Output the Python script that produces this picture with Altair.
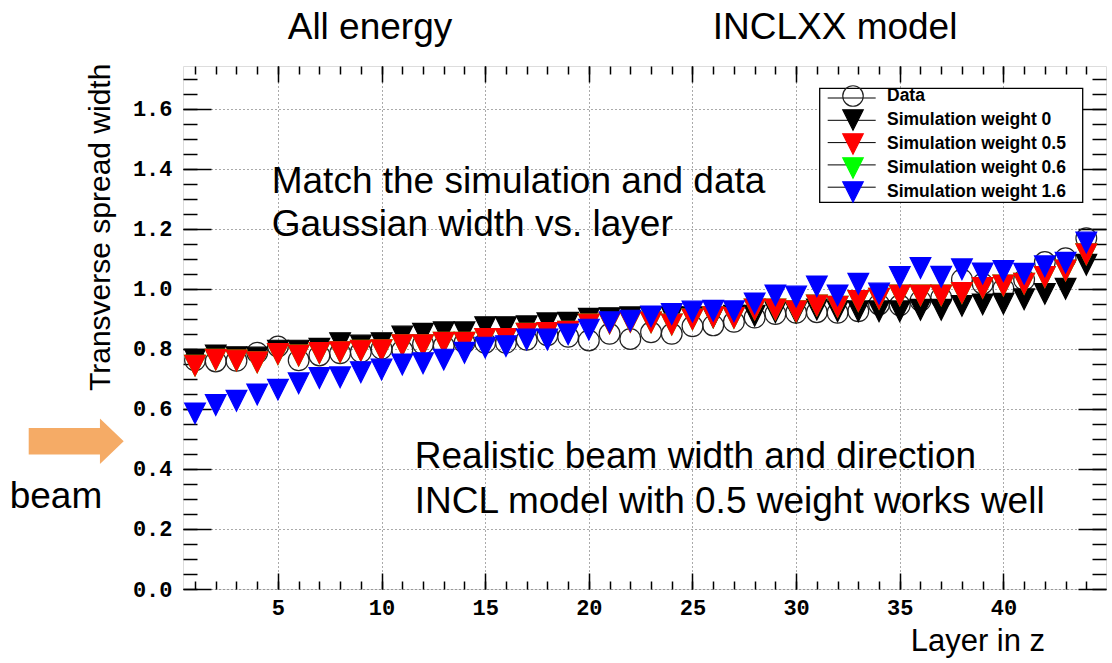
import altair as alt
import pandas as pd

# ---------------- data ----------------
layers = [1, 2, 3, 4, 5, 6, 7, 8, 9, 10, 11, 12, 13, 14, 15, 16, 17, 18, 19, 20, 21, 22,
          23, 24, 25, 26, 27, 28, 29, 30, 31, 32, 33, 34, 35, 36, 37, 38, 39, 40, 41, 42, 43, 44]

series_names = ["Data", "Simulation weight 0", "Simulation weight 0.5",
                "Simulation weight 0.6", "Simulation weight 1.6"]

data_vals = [0.762, 0.758, 0.760, 0.787, 0.808, 0.762, 0.778, 0.785, 0.789, 0.800, 0.795,
             0.816, 0.810, 0.820, 0.820, 0.820, 0.830, 0.845, 0.840, 0.828, 0.850, 0.833,
             0.855, 0.850, 0.875, 0.878, 0.890, 0.904, 0.916, 0.920, 0.922, 0.920, 0.925,
             0.948, 0.945, 0.960, 0.970, 1.031, 1.017, 1.000, 1.030, 1.089, 1.102, 1.168]

w0_vals = [0.764, 0.778, 0.772, 0.771, 0.794, 0.794, 0.800, 0.819, 0.811, 0.819, 0.841,
           0.850, 0.855, 0.855, 0.872, 0.872, 0.875, 0.885, 0.887, 0.900, 0.902, 0.905,
           0.905, 0.905, 0.905, 0.905, 0.910, 0.910, 0.922, 0.920, 0.931, 0.925, 0.925,
           0.925, 0.925, 0.930, 0.930, 0.943, 0.948, 0.950, 0.965, 0.983, 1.000, 1.080]

w05_vals = [0.744, 0.764, 0.761, 0.755, 0.783, 0.778, 0.786, 0.789, 0.794, 0.795, 0.812,
            0.812, 0.820, 0.820, 0.833, 0.833, 0.850, 0.853, 0.857, 0.881, 0.885, 0.890,
            0.888, 0.881, 0.898, 0.905, 0.903, 0.931, 0.931, 0.925, 0.944, 0.940, 0.959,
            0.967, 0.978, 0.978, 0.978, 0.986, 1.003, 1.011, 1.017, 1.039, 1.061, 1.115]

# weight 0.6 is hidden underneath weight 0.5 in the reference
w06_vals = [0.744, 0.764, 0.761, 0.755, 0.783, 0.778, 0.786, 0.789, 0.794, 0.795, 0.812,
            0.812, 0.820, 0.820, 0.833, 0.833, 0.850, 0.853, 0.857, 0.881, 0.885, 0.890,
            0.888, 0.881, 0.898, 0.905, 0.903, 0.931, 0.931, 0.925, 0.944, 0.940, 0.959,
            0.967, 0.978, 0.978, 0.978, 0.986, 1.003, 1.011, 1.017, 1.039, 1.061, 1.115]

w16_vals = [0.585, 0.613, 0.627, 0.648, 0.664, 0.685, 0.703, 0.705, 0.722, 0.731, 0.748,
            0.752, 0.764, 0.787, 0.804, 0.809, 0.831, 0.831, 0.848, 0.864, 0.889, 0.894,
            0.908, 0.916, 0.924, 0.927, 0.925, 0.951, 0.978, 0.974, 1.008, 0.978, 1.017,
            0.984, 1.039, 1.069, 1.040, 1.065, 1.051, 1.059, 1.050, 1.075, 1.087, 1.154]

x_major = [5, 10, 15, 20, 25, 30, 35, 40]
x_minor = layers
y_major = [0.0, 0.2, 0.4, 0.6, 0.8, 1.0, 1.2, 1.4, 1.6]
y_minor = [0.0, 0.05, 0.1, 0.15, 0.2, 0.25, 0.3, 0.35, 0.4, 0.45, 0.5, 0.55, 0.6, 0.65,
           0.7, 0.75, 0.8, 0.85, 0.9, 0.95, 1.0, 1.05, 1.1, 1.15, 1.2, 1.25, 1.3, 1.35,
           1.4, 1.45, 1.5, 1.55, 1.6, 1.65, 1.7]

# drawing order: data circles first, then black, green, red, blue
draw_order = [("Data", data_vals), ("Simulation weight 0", w0_vals),
              ("Simulation weight 0.6", w06_vals), ("Simulation weight 0.5", w05_vals),
              ("Simulation weight 1.6", w16_vals)]

rows = []
k = 0
for name, vals in draw_order:
    for lay, v in zip(layers, vals):
        rows.append({"layer": lay, "value": v, "series": name, "draw": k})
        k += 1
df = pd.DataFrame(rows)
dummy = pd.DataFrame({"a": [0]})

# ---------------- layout ----------------
W, H = 923, 523
PAD = {"left": 183, "top": 66, "right": 6, "bottom": 74}

xscale = alt.Scale(domain=[0.42, 44.95], nice=False, zero=False)
yscale = alt.Scale(domain=[0.0, 1.742], nice=False, zero=False)

TRI = "M-1,-1L1,-1L0,1Z"   # ROOT-like inverted triangle (as tall as wide)
shapes = ["circle", TRI, TRI, TRI, TRI]
fills = ["transparent", "black", "#ff0000", "#00ff00", "#0000ff"]
strokes = ["#222222", "black", "#ff0000", "#00ff00", "#0000ff"]

leg = alt.Legend(title=None, orient="none", legendX=637, legendY=17,
                 fillColor="transparent", padding=2,
                 symbolSize=420, symbolStrokeWidth=1.2, symbolOffset=20,
                 labelOffset=23, labelFont="Liberation Sans", labelFontWeight="bold",
                 labelFontSize=17.5, labelColor="black", rowPadding=-3.5, labelLimit=400,
                 symbolOpacity=1)

mono = "Liberation Mono"

points = alt.Chart(df).mark_point(size=430, opacity=1, strokeWidth=1.2, filled=False).encode(
    x=alt.X("layer:Q", scale=xscale,
            axis=alt.Axis(orient="bottom", values=x_major, ticks=False, domain=False,
                          grid=True, gridDash=[1, 3], gridColor="#555", gridWidth=1,
                          labelFont=mono, labelFontWeight="bold", labelFontSize=22,
                          labelPadding=8, labelColor="black", title=None)),
    y=alt.Y("value:Q", scale=yscale,
            axis=alt.Axis(orient="left", values=y_major, format=".1f", ticks=False,
                          domain=False, grid=True, gridDash=[1, 3], gridColor="#555",
                          gridWidth=1, labelFont=mono, labelFontWeight="bold",
                          labelFontSize=22, labelPadding=11, labelColor="black",
                          title=None)),
    shape=alt.Shape("series:N", scale=alt.Scale(domain=series_names, range=shapes), legend=leg),
    fill=alt.Fill("series:N", scale=alt.Scale(domain=series_names, range=fills), legend=leg),
    stroke=alt.Stroke("series:N", scale=alt.Scale(domain=series_names, range=strokes), legend=leg),
    order=alt.Order("draw:Q"),
)


def tick_layer(xv, xs, xo, yv, ys, yo):
    return alt.Chart(df).mark_point(opacity=0).encode(
        x=alt.X("layer:Q", scale=xscale,
                axis=alt.Axis(orient=xo, offset=-H, values=xv, tickSize=xs, labels=False,
                              domain=False, grid=False, title=None, tickColor="black",
                              tickWidth=1.5)),
        y=alt.Y("value:Q", scale=yscale,
                axis=alt.Axis(orient=yo, offset=-W, values=yv, tickSize=ys, labels=False,
                              domain=False, grid=False, title=None, tickColor="black",
                              tickWidth=1.5)),
    )


# inward ticks on bottom/left frame, then on top/right frame
t1 = tick_layer(x_minor, 8, "top", y_minor, 14, "right")
t2 = tick_layer(x_major, 16, "top", y_major, 28, "right")
t3 = tick_layer(x_minor, 8, "bottom", y_minor, 14, "left")
t4 = tick_layer(x_major, 16, "bottom", y_major, 28, "left")


def label(txt, x, y, size, **kw):
    return alt.Chart(dummy).mark_text(text=txt, align="left", baseline="alphabetic",
                                      font="Liberation Sans", fontSize=size, color="black",
                                      **kw).encode(x=alt.value(x), y=alt.value(y))


texts = [
    label("All energy", 104.7, -26.7, 37),
    label("INCLXX model", 529.7, -26.7, 37),
    label("Match the simulation and data", 88.7, 127.3, 37),
    label("Gaussian width vs. layer", 88.7, 170.3, 37),
    label("Realistic beam width and direction", 231.7, 402.3, 37),
    label("INCL model with 0.5 weight works well", 231.7, 447.3, 37),
    label("beam", -173.3, 442.3, 37),
    label("Layer in z", 727.7, 585.3, 31),
]

ytitle = alt.Chart(dummy).mark_text(text="Transverse spread width", angle=270, align="center",
                                    baseline="middle", font="Liberation Sans", fontSize=30,
                                    color="black").encode(x=alt.value(-82.3), y=alt.value(161.3))

ARROW = "M-1,-0.28L0.5,-0.28L0.5,-0.48L1,0L0.5,0.48L0.5,0.28L-1,0.28Z"
arrow = alt.Chart(dummy).mark_point(shape=ARROW, size=9025, filled=True, fill="#F5AB66",
                                    opacity=1, strokeWidth=0).encode(
    x=alt.value(-106.8), y=alt.value(375.3))

# legend frame and the short lines through the legend symbols (ROOT style)
legbox = alt.Chart(dummy).mark_rect(fill="white", stroke="black", strokeWidth=1.3).encode(
    x=alt.value(636.7), x2=alt.value(899.7), y=alt.value(22.3), y2=alt.value(136.3))
leglines = [
    alt.Chart(dummy).mark_rule(color="black", strokeWidth=1).encode(
        x=alt.value(644.7), x2=alt.value(692.7), y=alt.value(yy))
    for yy in [32.0, 54.3, 76.6, 98.9, 121.2]
]

chart = alt.layer(points, t1, t2, t3, t4, legbox, *leglines, arrow, ytitle, *texts).resolve_scale(
    x="shared", y="shared").resolve_axis(x="independent", y="independent").properties(
    width=W, height=H, padding=PAD, autosize=alt.AutoSizeParams(type="none")
).configure_view(stroke="black", strokeWidth=2).configure_axis(grid=False).configure(
    background="white")

chart.save("out.html", embed_options={"renderer": "svg", "actions": False})
